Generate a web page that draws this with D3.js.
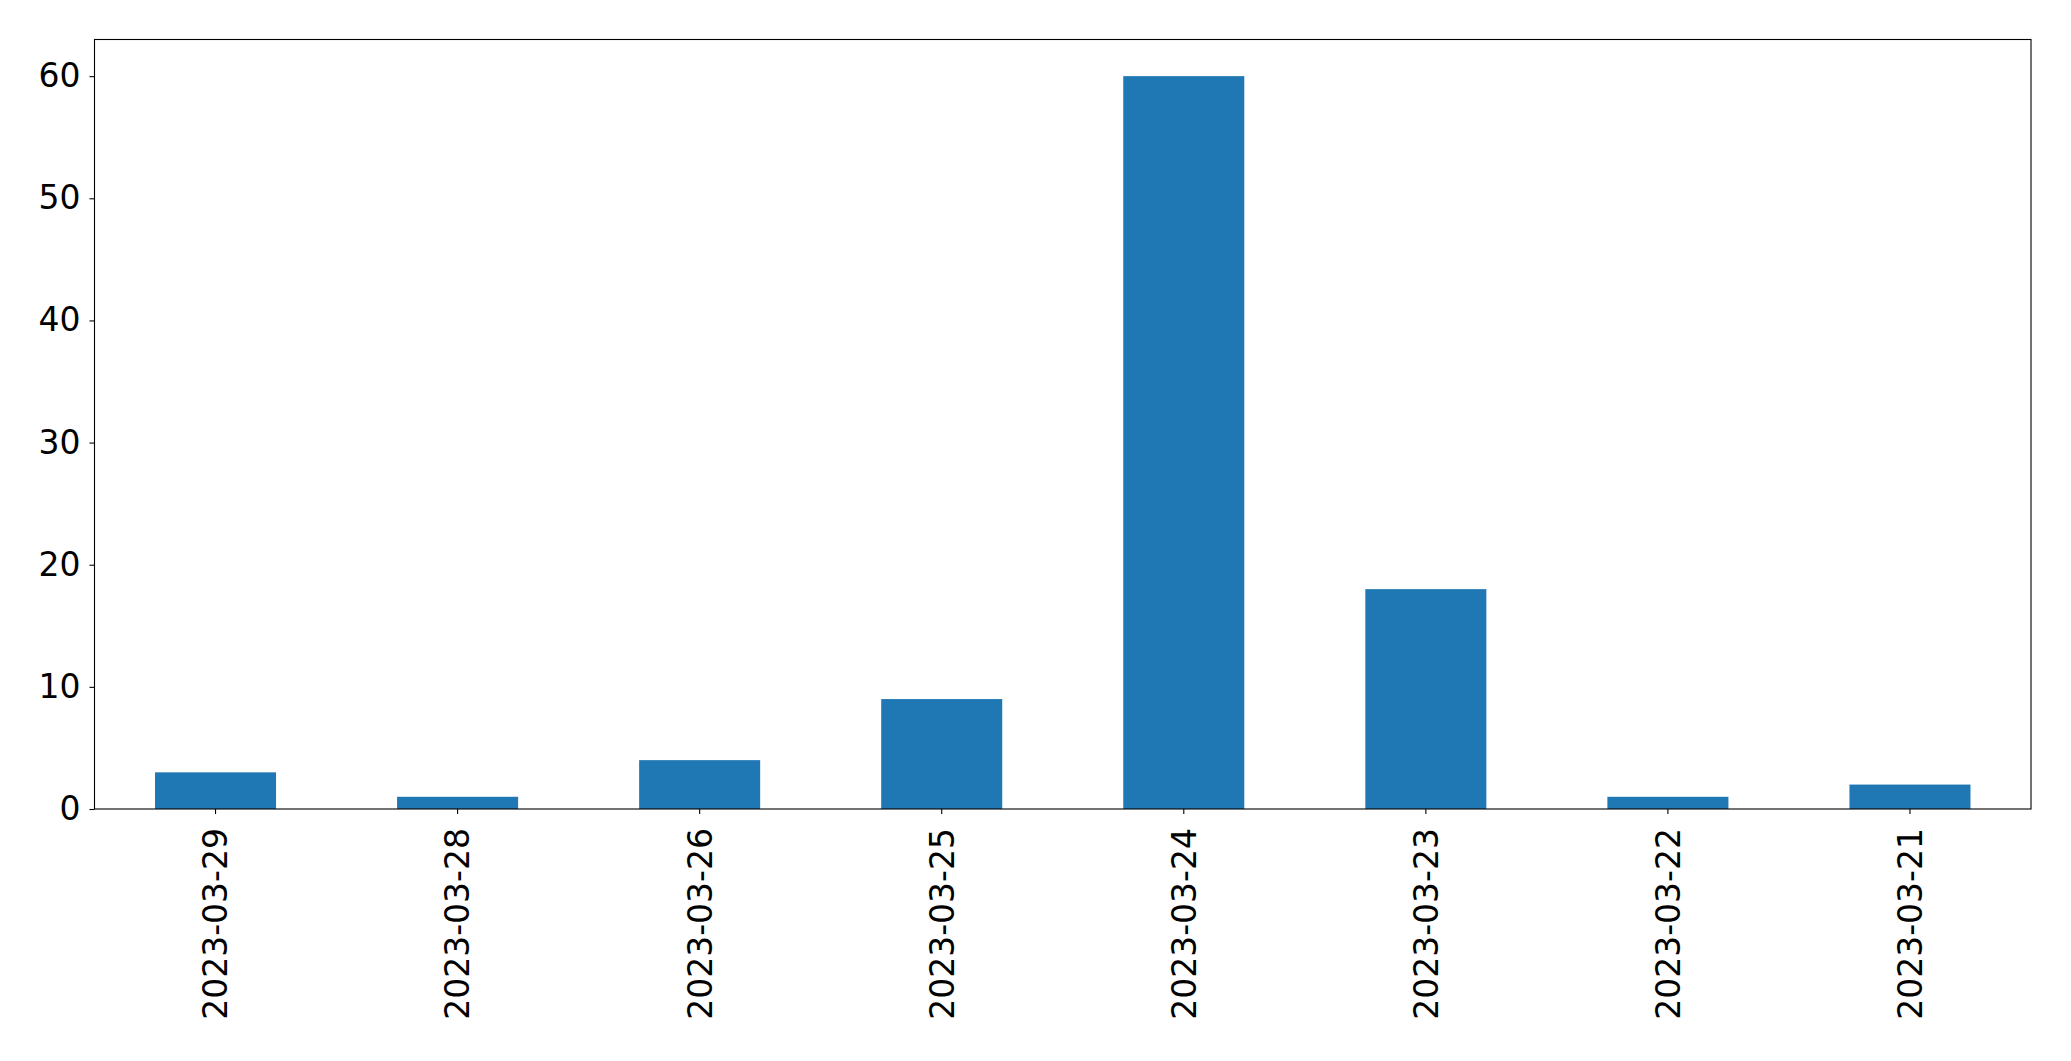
<!DOCTYPE html>
<html>
<head>
<meta charset="utf-8">
<script src="https://cdn.jsdelivr.net/npm/d3@7"></script>
<style>
html,body{margin:0;padding:0;background:#fff;}
svg{display:block;}
text{font-family:"DejaVu Sans",sans-serif;fill:#000;}
</style>
</head>
<body>
<svg id="chart" width="2071" height="1061"></svg>
<script>
const categories = ["2023-03-29","2023-03-28","2023-03-26","2023-03-25","2023-03-24","2023-03-23","2023-03-22","2023-03-21"];
const values = [3, 1, 4, 9, 60, 18, 1, 2];
const yTicks = [0, 10, 20, 30, 40, 50, 60];

const W = 2071, H = 1061;
const m = {left: 94.5, right: 2031, top: 39.5, bottom: 809};
const svg = d3.select("#chart");

const x = d3.scaleBand().domain(categories).range([m.left, m.right]).paddingInner(0.5).paddingOuter(0.25);
const y = d3.scaleLinear().domain([0, 63]).range([m.bottom, m.top]);

svg.append("g").selectAll("rect").data(values).join("rect")
  .attr("x", (d,i) => x(categories[i]))
  .attr("width", x.bandwidth())
  .attr("y", d => y(d))
  .attr("height", d => y(0) - y(d))
  .attr("fill", "#1f77b4");

// frame
svg.append("rect").attr("x", m.left).attr("y", m.top)
  .attr("width", m.right - m.left).attr("height", m.bottom - m.top)
  .attr("fill", "none").attr("stroke", "#000").attr("stroke-width", 1.1);

// y axis
const yAxis = d3.axisLeft(y).tickValues(yTicks).tickSize(5).tickPadding(9).tickFormat(d3.format("d"));
const gy = svg.append("g").attr("transform", `translate(${m.left},0)`).call(yAxis);
gy.select(".domain").remove();
gy.selectAll(".tick line").attr("stroke", "#000").attr("stroke-width", 1.1);
gy.selectAll(".tick text").attr("font-size", "33px").attr("font-family", "DejaVu Sans").attr("fill", "#000");

// x axis
const xAxis = d3.axisBottom(x).tickSize(5).tickPadding(0);
const gx = svg.append("g").attr("transform", `translate(0,${m.bottom})`).call(xAxis);
gx.select(".domain").remove();
gx.selectAll(".tick line").attr("stroke", "#000").attr("stroke-width", 1.1);
gx.selectAll(".tick text")
  .attr("font-size", "33px").attr("font-family", "DejaVu Sans").attr("fill", "#000")
  .attr("text-anchor", "end")
  .attr("y", 0).attr("dy", "0.36em")
  .attr("transform", "translate(0,19) rotate(-90)");
</script>
</body>
</html>
